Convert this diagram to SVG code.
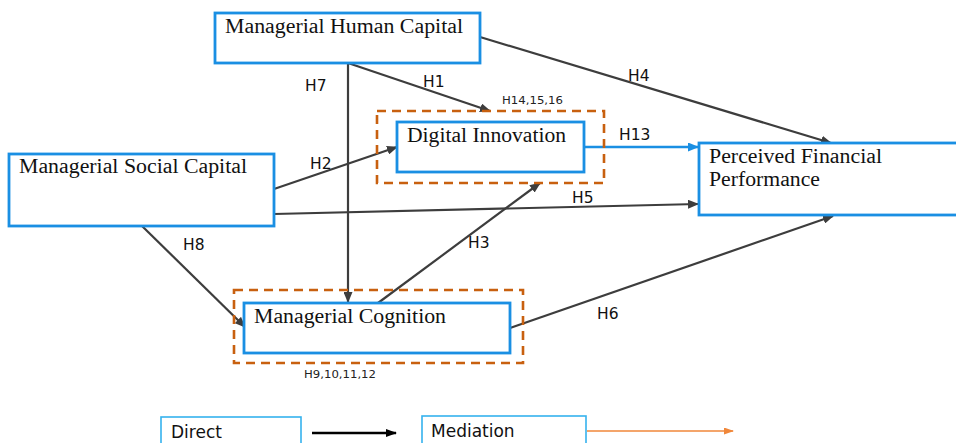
<svg xmlns="http://www.w3.org/2000/svg" width="956" height="443" viewBox="0 0 956 443">
<defs>
<style>
.box{fill:#fff;stroke:#1a8fe3;stroke-width:2.8}
.dash{fill:none;stroke:#c8600f;stroke-width:2.6;stroke-dasharray:9,6}
.lbl{font-family:"Liberation Serif","Times New Roman",serif;font-size:20px;fill:#111}
.h{font-family:"DejaVu Sans","Open Sans",sans-serif;font-size:15.5px;fill:#111}
.hs{font-family:"DejaVu Sans","Open Sans",sans-serif;font-size:10.5px;fill:#222}
.c{fill:none;stroke:#3d3d3d;stroke-width:2.2}
.leg{fill:#fff;stroke:#35b2ee;stroke-width:1.6}
.legt{font-family:"DejaVu Sans","Open Sans",sans-serif;font-size:17px;fill:#111}
</style>
<marker id="ag" markerUnits="userSpaceOnUse" markerWidth="11" markerHeight="9" refX="10" refY="4.5" orient="auto"><path d="M0,0 L11,4.5 L0,9 z" fill="#3d3d3d"/></marker>
<marker id="ab" markerUnits="userSpaceOnUse" markerWidth="11" markerHeight="9" refX="10" refY="4.5" orient="auto"><path d="M0,0 L11,4.5 L0,9 z" fill="#1a8fe3"/></marker>
<marker id="ak" markerUnits="userSpaceOnUse" markerWidth="11" markerHeight="8" refX="10" refY="4" orient="auto"><path d="M0,0 L11,4 L0,8 z" fill="#000"/></marker>
<marker id="ao" markerUnits="userSpaceOnUse" markerWidth="10" markerHeight="7" refX="9" refY="3.5" orient="auto"><path d="M0,0 L10,3.5 L0,7 z" fill="#f0873a"/></marker>
</defs>
<rect width="956" height="443" fill="#fff"/>

<g id="connectors">
<line class="c" x1="348" y1="63" x2="348" y2="302" marker-end="url(#ag)"/>
<line class="c" x1="348" y1="63" x2="490" y2="111" marker-end="url(#ag)"/>
<line class="c" x1="480" y1="37" x2="831" y2="143" marker-end="url(#ag)"/>
<line class="c" x1="274" y1="189" x2="397" y2="147" marker-end="url(#ag)"/>
<line class="c" x1="274" y1="214" x2="698" y2="204" marker-end="url(#ag)"/>
<line class="c" x1="142" y1="226" x2="245" y2="327" marker-end="url(#ag)"/>
<line class="c" x1="378" y1="303" x2="540" y2="183" marker-end="url(#ag)"/>
<line class="c" x1="510" y1="328" x2="833" y2="216" marker-end="url(#ag)"/>
<line x1="584" y1="147" x2="698" y2="147" stroke="#1a8fe3" stroke-width="2.4" marker-end="url(#ab)"/>
<text class="h" x="305" y="91">H7</text>
<text class="h" x="423" y="87">H1</text>
<text class="h" x="628" y="81">H4</text>
<text class="h" x="310" y="169">H2</text>
<text class="h" x="619" y="140">H13</text>
<text class="h" x="572" y="203">H5</text>
<text class="h" x="183" y="250">H8</text>
<text class="h" x="468" y="248">H3</text>
<text class="h" x="597" y="319">H6</text>
<text class="hs" x="502" y="104" textLength="61" lengthAdjust="spacingAndGlyphs">H14,15,16</text>
<text class="hs" x="304" y="378" textLength="72" lengthAdjust="spacingAndGlyphs">H9,10,11,12</text>
</g>

<g id="mhc">
<rect class="box" x="215" y="13" width="265" height="50"/>
<text class="lbl" x="225" y="33" textLength="238" lengthAdjust="spacingAndGlyphs">Managerial Human Capital</text>
</g>

<g id="msc">
<rect class="box" x="9" y="154" width="265" height="72"/>
<text class="lbl" x="19" y="173" textLength="228" lengthAdjust="spacingAndGlyphs">Managerial Social Capital</text>
</g>

<g id="di">
<rect class="dash" x="377" y="111" width="227" height="72"/>
<rect class="box" x="397" y="122" width="187" height="50"/>
<text class="lbl" x="407" y="142" textLength="159" lengthAdjust="spacingAndGlyphs">Digital Innovation</text>
</g>

<g id="pfp">
<rect class="box" x="699" y="143" width="262" height="72"/>
<text class="lbl" x="709" y="163" textLength="173" lengthAdjust="spacingAndGlyphs">Perceived Financial</text>
<text class="lbl" x="709" y="186" textLength="111" lengthAdjust="spacingAndGlyphs">Performance</text>
</g>

<g id="mc">
<rect class="dash" x="234" y="290" width="289" height="73"/>
<rect class="box" x="244" y="303" width="266" height="50"/>
<text class="lbl" x="254" y="323" textLength="192" lengthAdjust="spacingAndGlyphs">Managerial Cognition</text>
</g>

<g id="legend">
<rect class="leg" x="161" y="417" width="140" height="40"/>
<text class="legt" x="171" y="438">Direct</text>
<line x1="312" y1="433" x2="396" y2="433" stroke="#000" stroke-width="2.4" marker-end="url(#ak)"/>
<rect class="leg" x="422" y="416" width="164" height="40"/>
<text class="legt" x="431" y="437">Mediation</text>
<line x1="587" y1="431" x2="733" y2="431" stroke="#f0873a" stroke-width="1.6" marker-end="url(#ao)"/>
</g>
</svg>
